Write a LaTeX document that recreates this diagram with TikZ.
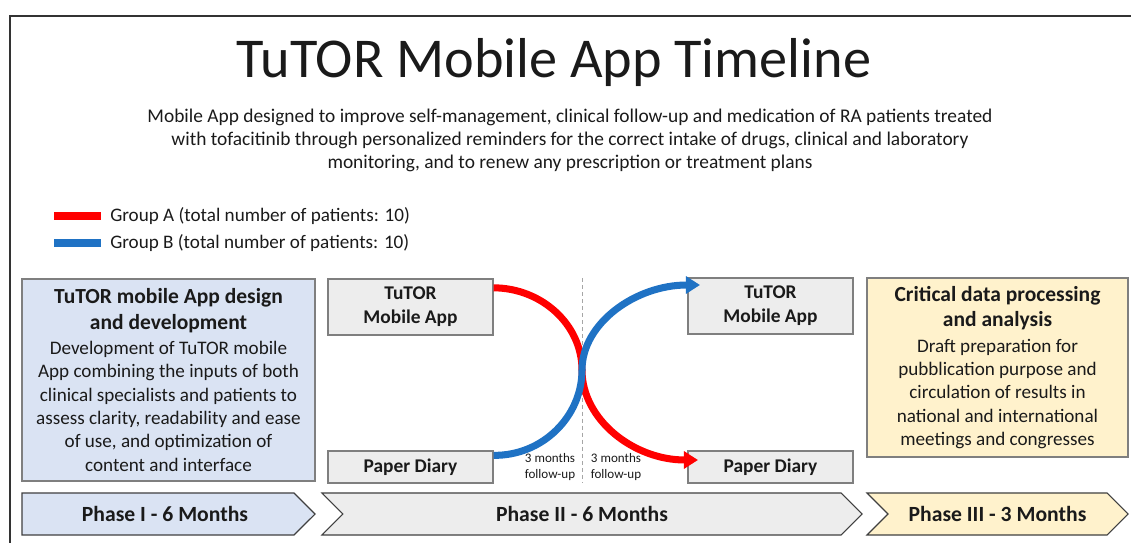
\documentclass[tikz,border=0pt]{standalone}
\usepackage{fontspec}
\setmainfont{Carlito}
\usetikzlibrary{positioning, arrows.meta, shapes.symbols}
\definecolor{TutorBlue}{HTML}{DAE3F3}
\definecolor{TutorGray}{HTML}{EDEDED}
\definecolor{TutorYellow}{HTML}{FFF2CC}
\definecolor{GroupRed}{HTML}{FF0000}
\definecolor{GroupBlue}{HTML}{1F72C4}
\definecolor{BoxEdge}{HTML}{7F7F7F}
\definecolor{TextDark}{HTML}{1A1A1A}
\newcommand{\boxhead}{\fontsize{15.3}{18}\selectfont\bfseries}
\newcommand{\boxbody}{\fontsize{13.6}{16.6}\selectfont\mdseries}

\begin{document}
\begin{tikzpicture}[
        x=0.025cm, y=-0.025cm,
        node distance=0.3cm,
        every node/.style={text=TextDark},
        textbox/.style={
            rectangle, draw=BoxEdge, line width=0.8pt, align=center, inner sep=0pt
        },
        infobox/.style={textbox, font=\boxbody},
        appbox/.style={textbox, fill=TutorGray, minimum width=4.125cm, font=\fontsize{13.8}{17}\selectfont\bfseries},
        phase/.style={
            signal, signal to=east, signal pointer angle=90, draw=black!75, line width=0.8pt,
            minimum height=1.05cm, inner sep=0pt, font=\fontsize{15.4}{18}\selectfont\bfseries
        },
        note/.style={align=center, inner sep=0pt, font=\fontsize{9.3}{10.7}\selectfont},
        legend/.style={anchor=west, inner sep=0pt, font=\fontsize{13.6}{16.4}\selectfont},
        groupA/.style={line width=5pt, color=GroupRed},
        groupB/.style={line width=5pt, color=GroupBlue},
        tip/.style={-{Triangle[length=10pt, width=12pt]}}
    ]
    \useasboundingbox (0,0) rectangle (1131,543);

    % Frame
    \draw[black!80, line width=1pt] (10,543) -- (10,16) -- (1131,16);

    % Title
    \node (title) [anchor=base, font=\fontsize{40}{48}\selectfont] at (554,78) {TuTOR Mobile App Timeline};
    \node (aim) [align=center, font=\fontsize{13.8}{16.4}\selectfont] at (570,140) {
        Mobile App designed to improve self-management, clinical follow-up and medication of RA patients treated\\
        with tofacitinib through personalized reminders for the correct intake of drugs, clinical and laboratory\\
        monitoring, and to renew any prescription or treatment plans
    };

    % Legend
    \node (legA) [legend] at (110,216) {Group A (total number of patients: 10)};
    \node (legB) [legend] at (110,243) {Group B (total number of patients: 10)};
    \draw[line width=5pt, GroupRed] (54,216) -- (101,216);
    \draw[line width=5pt, GroupBlue] (54,243) -- (101,243);

    % Phase I box
    \node (design) [infobox, fill=TutorBlue, minimum width=7.325cm, minimum height=5.05cm] at (168.5,380) {
        \boxhead TuTOR mobile App design\\[1.4pt]
        \boxhead and development\\[1.4pt]
        \boxbody Development of TuTOR mobile\\
        App combining the inputs of both\\
        clinical specialists and patients to\\
        assess clarity, readability and ease\\
        of use, and optimization of\\
        content and interface
    };

    % Phase II boxes
    \node (app1) [appbox, minimum height=1.4cm] at (410.5,307) {TuTOR\\ Mobile App};
    \node (diary1) [appbox, minimum height=0.8cm] at (410.5,467) {Paper Diary};
    \node (app2) [appbox, minimum height=1.4cm] at (770.5,306) {TuTOR\\ Mobile App};
    \node (diary2) [appbox, minimum height=0.8cm] at (770.5,467) {Paper Diary};

    % Phase III box
    \node (analysis) [infobox, fill=TutorYellow, minimum width=6.525cm, minimum height=4.475cm] at (997.5,367.5) {
        \boxhead Critical data processing\\[1.4pt]
        \boxhead and analysis\\[1.4pt]
        \boxbody Draft preparation for\\
        pubblication purpose and\\
        circulation of results in\\
        national and international\\
        meetings and congresses
    };

    % Crossover
    \coordinate (midtop) at (582,278);
    \coordinate (midbot) at (582,482);
    \coordinate (cross) at (582,370);
    \coordinate (redtip) at (698,460);
    \coordinate (bluetip) at (700,285);
    \draw[gray!70, densely dashed, line width=0.5pt] (midtop) -- (midbot);
    \draw[groupA, tip] (app1.13) .. controls (542,288) and (582,325) .. (cross)
        .. controls (582,420) and (634,460) .. (redtip);
    \draw[groupB, tip] (diary1.8) .. controls (542,456) and (582,417) .. (cross)
        .. controls (582,323) and (636,285) .. (bluetip);
    \node (fu1) [note] at (550,467) {3 months\\ follow-up};
    \node (fu2) [note] at (616,467) {3 months\\ follow-up};

    % Phases
    \node (phase1) [phase, fill=TutorBlue, minimum width=7.325cm] at (158,514) {\hspace{0.35cm}Phase I - 6 Months};
    \node (phase2) [phase, signal from=west, fill=TutorGray, minimum width=13.5cm] at (592,514) {Phase II - 6 Months\kern0.5cm};
    \node (phase3) [phase, signal from=west, fill=TutorYellow, minimum width=6.525cm] at (997.5,514) {Phase III - 3 Months};

\end{tikzpicture}
\end{document}
